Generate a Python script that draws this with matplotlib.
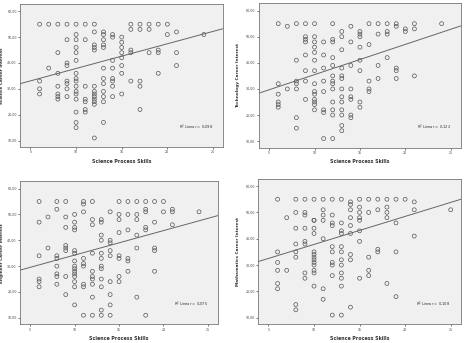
import matplotlib.pyplot as plt
import numpy as np

# science process skills (x) -> career interest values (y), one dict per panel
science_pts = {
    6: [55, 33, 30, 28], 7: [55, 38], 8: [55, 44, 36, 31, 28, 27, 26],
    9: [55, 49, 40, 39, 33, 32, 30, 27],
    10: [55, 51, 49, 46, 44, 41, 36, 34, 33, 31, 29, 28, 26, 21, 17, 15],
    11: [55, 49, 31, 26, 25, 22, 21],
    12: [55, 52, 47, 46, 45, 31, 29, 28, 27, 26, 25, 24, 11],
    13: [52, 51, 49, 47, 46, 38, 34, 32, 29, 27, 25, 17],
    14: [51, 50, 41, 38, 34, 33, 31, 27],
    15: [50, 48, 46, 44, 42, 39, 36, 28],
    16: [55, 53, 45, 44, 33], 17: [55, 53, 33, 31, 22], 18: [55, 53, 44],
    19: [55, 45, 44, 36], 20: [55, 51], 21: [52, 44, 39], 24: [51],
}
technology_pts = {
    6: [55, 32, 28, 25, 24, 23], 7: [54, 30],
    8: [55, 41, 33, 32, 30, 19, 15],
    9: [55, 50, 49, 48, 43, 37, 33, 26],
    10: [55, 50, 48, 46, 44, 41, 37, 32, 29, 28, 26, 25, 24, 22],
    11: [48, 43, 38, 33, 29, 22, 21, 11],
    12: [55, 49, 48, 42, 39, 35, 33, 32, 30, 25, 22, 20, 11],
    13: [52, 50, 45, 38, 35, 34, 30, 27, 25, 22, 20, 16, 14],
    14: [54, 48, 39, 30, 27, 26, 20, 19],
    15: [52, 51, 50, 46, 41, 37, 25, 23],
    16: [55, 47, 33, 30, 29], 17: [55, 51, 39, 34], 18: [55, 52, 51, 42],
    19: [55, 54, 38, 37, 34], 20: [53, 52], 21: [55, 53, 35], 24: [55],
}
engineer_pts = {
    6: [55, 47, 34, 25, 24, 22], 7: [49, 37],
    8: [55, 52, 34, 33, 30, 27, 26, 23],
    9: [55, 49, 45, 38, 37, 36, 26, 19],
    10: [50, 47, 45, 44, 36, 35, 32, 30, 29, 28, 27, 26, 24, 22, 15],
    11: [55, 54, 51, 33, 31, 30, 23, 22, 11],
    12: [55, 48, 46, 35, 28, 26, 25, 23, 18, 11],
    13: [48, 47, 42, 40, 35, 33, 30, 29, 25, 22, 13, 11],
    14: [51, 40, 39, 36, 34, 24, 19, 15, 11],
    15: [55, 50, 48, 43, 34, 33, 26, 24],
    16: [55, 50, 44, 33, 32, 28], 17: [55, 50, 48, 42, 37, 18],
    18: [55, 52, 51, 45, 44, 11], 19: [55, 47, 37, 36, 28],
    20: [55, 51], 21: [52, 51, 46], 24: [51],
}
mathematics_pts = {
    6: [55, 35, 31, 28, 23, 21], 7: [48, 28],
    8: [55, 50, 44, 38, 35, 33, 15, 13],
    9: [55, 50, 49, 44, 39, 38, 27, 25],
    10: [55, 47, 47, 44, 42, 35, 34, 33, 32, 31, 30, 28, 27, 22],
    11: [55, 51, 49, 47, 40, 21, 17],
    12: [55, 49, 46, 45, 37, 35, 31, 30, 26, 11],
    13: [55, 46, 43, 42, 37, 35, 32, 30, 27, 25, 22, 11],
    14: [54, 53, 51, 48, 45, 42, 34, 32, 14],
    15: [55, 52, 50, 48, 47, 43, 39, 25],
    16: [55, 50, 33, 28, 26], 17: [55, 51, 36, 35],
    18: [55, 52, 50, 48, 23], 19: [55, 46, 35, 18],
    20: [55], 21: [54, 51, 41], 25: [51],
}

y_labels = ["Science Career Interest", "Technology Career Interest",
            "Engineer Career Interest", "Mathematics Career Interest"]
# linear fit: intercept, slope, R squared
fit_b0 = [28.3, 23.9, 24.8, 27.2]
fit_b1 = [0.956, 1.158, 0.947, 1.064]
r_squared = ["0,098", "0,122", "0,075", "0,108"]

x_ticks = [5, 10, 15, 20, 25]
y_ticks = [10, 20, 30, 40, 50, 60]

fig = plt.figure(figsize=(4.68, 3.43), dpi=100)
positions = [
    [0.0427, 0.5714, 0.4338, 0.4169],
    [0.5528, 0.5694, 0.4316, 0.4210],
    [0.0427, 0.0545, 0.4224, 0.4169],
    [0.5513, 0.0545, 0.4331, 0.4245],
]
# y label offset left of the axes, in pixels
label_off = [16.3, 18.5, 16.3, 18.5]
panels = [science_pts, technology_pts, engineer_pts, mathematics_pts]

for i, pts in enumerate(panels):
    ax = fig.add_axes(positions[i])
    ax.set_facecolor("#f0f0f0")
    xs = [x for x, ys in pts.items() for _ in ys]
    ys = [y for ys in pts.values() for y in ys]
    ax.scatter(xs, ys, s=8, facecolors="none", edgecolors="#555555",
               linewidths=0.5, zorder=3)

    xlim = (3.85, 26.1)
    line_x = np.array(xlim)
    ax.plot(line_x, fit_b0[i] + fit_b1[i] * line_x, color="#666666",
            linewidth=0.7, zorder=2)
    ax.set_xlim(xlim)
    ax.set_ylim(7.5, 62.8)

    ax.set_xticks(x_ticks)
    ax.set_xticklabels([str(t) for t in x_ticks])
    ax.set_yticks(y_ticks)
    ax.set_yticklabels([f"{t:.2f}".replace(".", ",") for t in y_ticks])
    ax.tick_params(labelsize=2.3, length=1.5, width=0.5, pad=0.8,
                   colors="#444444")
    for sp in ax.spines.values():
        sp.set_color("#777777")
        sp.set_linewidth(0.6)

    ax.set_xlabel("Science Process Skills", fontsize=3.4, fontweight="bold",
                  color="#333333", labelpad=3.3)
    ax.set_ylabel(y_labels[i], fontsize=3.1, fontweight="bold",
                  color="#333333")
    ax_w = positions[i][2] * 468
    ax.yaxis.set_label_coords(-label_off[i] / ax_w, 0.5)
    ax.text(0.95, 0.14, "R$^2$ Linear = " + r_squared[i],
            transform=ax.transAxes, ha="right", va="center", fontsize=2.6,
            color="#333333")

fig.savefig("out.png", dpi=100)
